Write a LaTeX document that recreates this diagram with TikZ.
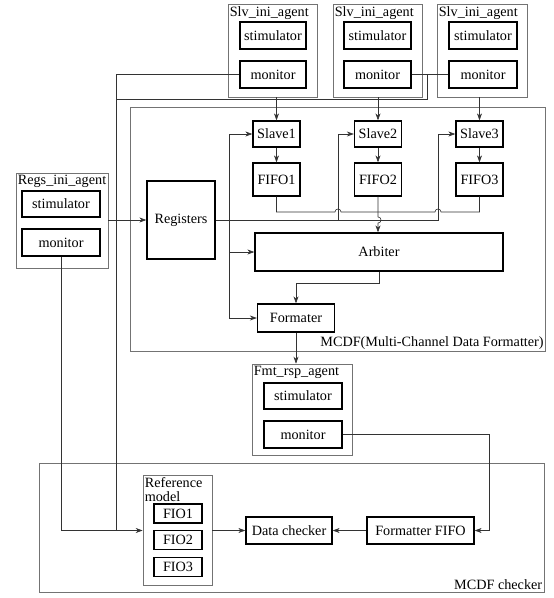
\documentclass[tikz,border=0pt]{standalone}
\usepackage{fontspec}
\setmainfont{Liberation Serif}
\usetikzlibrary{arrows.meta}
\begin{document}
\begin{tikzpicture}[x=1pt,y=-1pt,
  font=\fontsize{14.2}{13.5}\selectfont,
  inbox/.style={draw=black,line width=1.3pt,inner sep=0pt},
  grp/.style={draw=black!55,line width=0.7pt,inner sep=0pt},
  lbl/.style={anchor=north west,inner xsep=2pt,inner ysep=2.5pt,align=left},
  conn/.style={line width=0.6pt,draw=black!80},
  arr/.style={conn,-{Stealth[length=7pt,width=5pt]}}]
\path[use as bounding box] (0,0) rectangle (554,598);

% Slv_ini_agents
\node[grp,minimum width=89pt,minimum height=93pt] (ag1) at (272.5,50.5) {};
\node[grp,minimum width=89pt,minimum height=93pt] (ag2) at (377.5,50.5) {};
\node[grp,minimum width=90pt,minimum height=93pt] (ag3) at (482,50.5) {};
\node[lbl] (ag1l) at (ag1.north west) {Slv\_ini\_agent};
\node[lbl] (ag2l) at (ag2.north west) {Slv\_ini\_agent};
\node[lbl] (ag3l) at (ag3.north west) {Slv\_ini\_agent};
\node[inbox,minimum width=66pt,minimum height=27pt] (st1) at (273,35.5) {stimulator};
\node[inbox,minimum width=67pt,minimum height=27pt] (st2) at (377.5,35.5) {stimulator};
\node[inbox,minimum width=68pt,minimum height=27pt] (st3) at (483,35.5) {stimulator};
\node[inbox,minimum width=66pt,minimum height=27pt] (m1) at (273,74.5) {monitor};
\node[inbox,minimum width=67pt,minimum height=27pt] (m2) at (377.5,74.5) {monitor};
\node[inbox,minimum width=68pt,minimum height=27pt] (m3) at (483,74.5) {monitor};

% MCDF
\node[grp,minimum width=415pt,minimum height=244pt] (mcdf) at (337.5,229) {};
\node[anchor=south east,inner sep=1.5pt] (mcdfl) at (mcdf.south east) {MCDF(Multi-Channel Data Formatter)};
\node[inbox,minimum width=47pt,minimum height=26pt] (s1) at (276.5,134) {Slave1};
\node[inbox,minimum width=47pt,minimum height=26pt] (s2) at (378,134) {Slave2};
\node[inbox,minimum width=47pt,minimum height=26pt] (s3) at (479.5,134) {Slave3};
\node[inbox,minimum width=47pt,minimum height=33pt] (f1) at (276.5,179.5) {FIFO1};
\node[inbox,minimum width=47pt,minimum height=33pt] (f2) at (378,179.5) {FIFO2};
\node[inbox,minimum width=47pt,minimum height=33pt] (f3) at (479.5,179.5) {FIFO3};
\node[inbox,minimum width=68pt,minimum height=78pt] (reg) at (181,220) {Registers};
\node[inbox,minimum width=248pt,minimum height=38pt] (arb) at (379,252) {Arbiter};
\node[inbox,minimum width=77pt,minimum height=28pt] (form) at (296,318) {Formater};

% Regs_ini_agent
\node[grp,minimum width=92pt,minimum height=95pt] (ra) at (62,220.5) {};
\node[lbl] (ral) at (ra.north west) {Regs\_ini\_agent};
\node[inbox,minimum width=78pt,minimum height=26pt] (rst) at (61,204) {stimulator};
\node[inbox,minimum width=78pt,minimum height=27pt] (rm) at (61,242.5) {monitor};

% Fmt_rsp_agent
\node[grp,minimum width=100pt,minimum height=91pt] (fa) at (302,409.5) {};
\node[lbl] (fal) at (fa.north west) {Fmt\_rsp\_agent};
\node[inbox,minimum width=78pt,minimum height=26pt] (fst) at (303,396) {stimulator};
\node[inbox,minimum width=78pt,minimum height=27pt] (fmon) at (303,434.5) {monitor};

% MCDF checker
\node[grp,minimum width=505pt,minimum height=129pt] (chk) at (291.5,527.5) {};
\node[anchor=south east,inner xsep=2pt,inner ysep=2.5pt] (chkl) at (chk.south east) {MCDF checker};
\node[grp,minimum width=69pt,minimum height=110pt] (ref) at (177.5,530.5) {};
\node[lbl] (refl) at (ref.north west) {Reference\\model};
\node[inbox,minimum width=48pt,minimum height=19pt] (fio1) at (178,513.5) {FIO1};
\node[inbox,minimum width=48pt,minimum height=19pt] (fio2) at (178,540) {FIO2};
\node[inbox,minimum width=48pt,minimum height=19pt] (fio3) at (178,567) {FIO3};
\node[inbox,minimum width=86pt,minimum height=27pt] (dc) at (289,530.5) {Data checker};
\node[inbox,minimum width=107pt,minimum height=27pt] (ff) at (420.5,530.5) {Formatter FIFO};

% coordinates
\coordinate (busL) at (116,530.5);
\coordinate (busT) at (116,99);
\coordinate (busR) at (427,99);
\coordinate (r3) at (438,220);
\coordinate (r3t) at (438,134);
\coordinate (r2) at (338,220);
\coordinate (r2t) at (338,134);
\coordinate (r1t) at (229,134);
\coordinate (r1a) at (229,252);
\coordinate (r1b) at (229,318);
\coordinate (fbend) at (489,530.5);
\coordinate (abend) at (379,283);

% monitor bus
\draw[conn] (m1.west) -| (busL);
\draw[conn] (busT) -- (busR) -- (busR |- m2.east);
\draw[conn] (m2.east) -- (m3.west);
\draw[arr] (rm.south) |- (ref.west);

% agents to slaves
\draw[arr] (s1.north |- ag1.south) -- (s1.north);
\draw[arr] (s2.north |- ag2.south) -- (s2.north);
\draw[arr] (s3.north |- ag3.south) -- (s3.north);
\draw[arr] (s1.south) -- (f1.north);
\draw[arr] (s2.south) -- (f2.north);
\draw[arr] (s3.south) -- (f3.north);

% fifos to arbiter
\draw[conn] (f1.south) -- (276.5,212) -- (335,212)
  .. controls (335,208) and (341,208) .. (341,212) -- (435,212)
  .. controls (435,208) and (441,208) .. (441,212) -- (479.5,212) -- (f3.south);
\draw[arr] (f2.south) -- (378,217) .. controls (382,217) and (382,223) .. (378,223) -- (f2.south |- arb.north);

% registers
\draw[arr] (reg.west -| ra.east) -- (reg.west);
\draw[conn] (reg.east) -- (r3) -- (r3t);
\draw[arr] (r3t) -- (s3.west);
\draw[conn] (r2) -- (r2t);
\draw[arr] (r2t) -- (s2.west);
\draw[conn] (r1t) -- (r1b);
\draw[arr] (r1t) -- (s1.west);
\draw[arr] (r1a) -- (arb.west);
\draw[arr] (r1b) -- (form.west);

% arbiter to formater to fmt agent
\draw[arr] (arb.south -| abend) -- (abend) -| (form.north);
\draw[arr] (form.south) -- (form.south |- fa.north);

% checker
\draw[arr] (fmon.east) -| (fbend) -- (ff.east);
\draw[arr] (ff.west) -- (dc.east);
\draw[arr] (ref.east) -- (dc.west);
\end{tikzpicture}
\end{document}
